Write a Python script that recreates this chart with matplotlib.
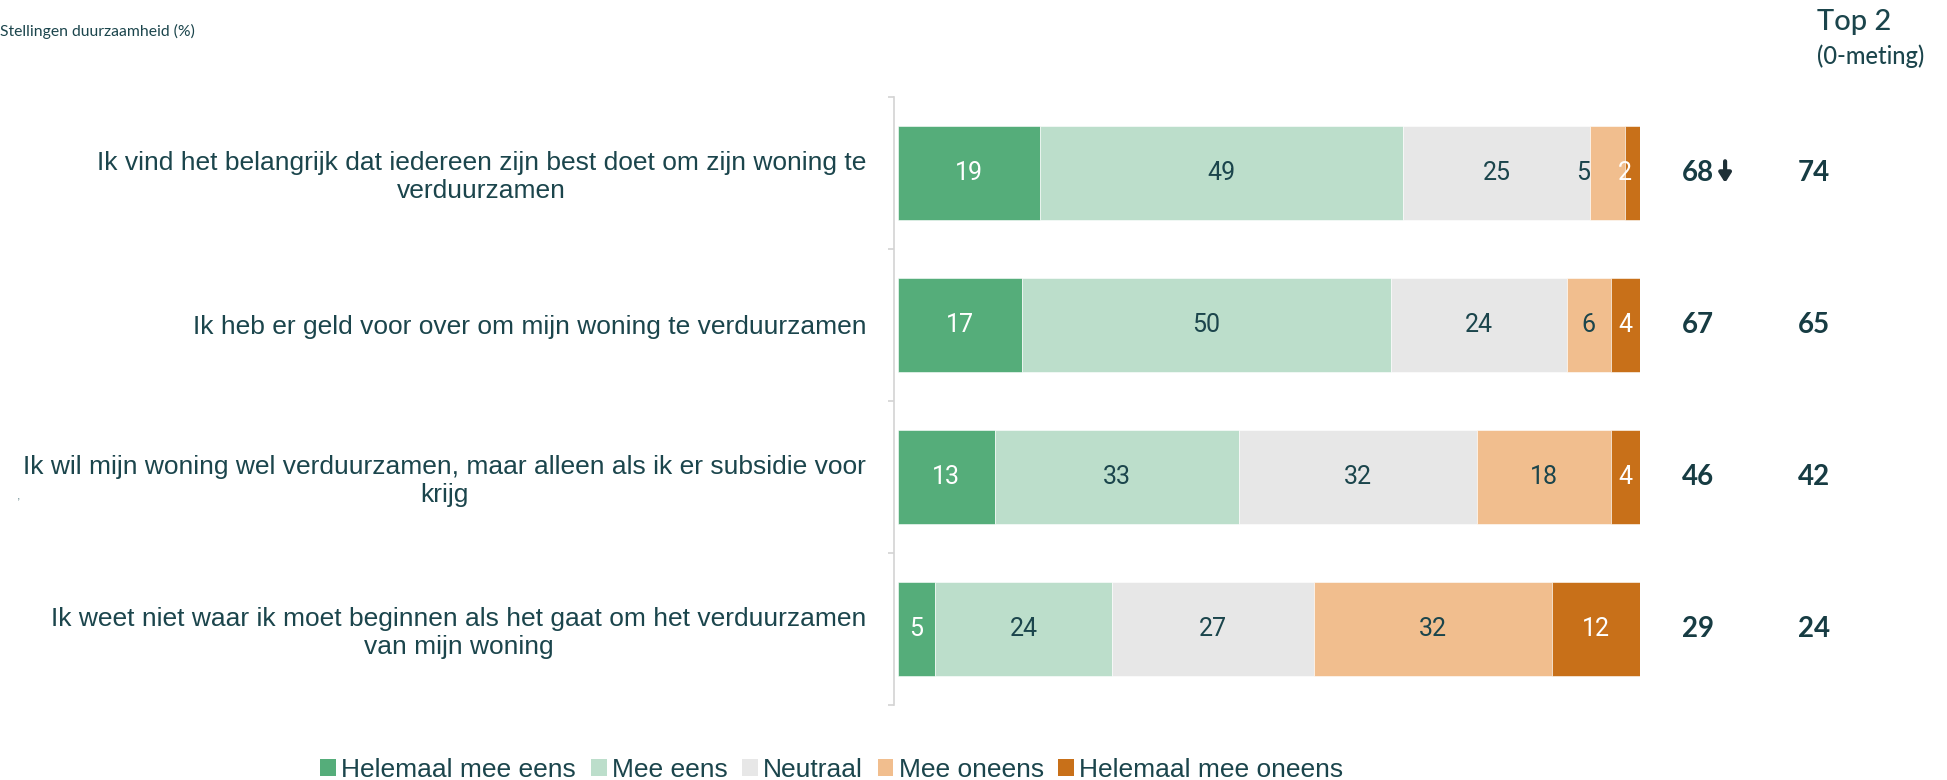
import matplotlib
matplotlib.use("Agg")
import matplotlib.pyplot as plt
from matplotlib.patches import Patch
import numpy as np

statements = [
    "Ik vind het belangrijk dat iedereen zijn best doet om zijn woning te\nverduurzamen",
    "Ik heb er geld voor over om mijn woning te verduurzamen",
    "Ik wil mijn woning wel verduurzamen, maar alleen als ik er subsidie voor\nkrijg",
    "Ik weet niet waar ik moet beginnen als het gaat om het verduurzamen\nvan mijn woning",
]
categories = ["Helemaal mee eens", "Mee eens", "Neutraal", "Mee oneens", "Helemaal mee oneens"]

helemaal_eens = [19.1, 16.7, 13.0, 5.0]
mee_eens = [49.0, 49.7, 32.9, 23.9]
neutraal = [25.1, 23.7, 32.1, 27.1]
mee_oneens = [4.8, 6.0, 18.1, 32.1]
helemaal_oneens = [2.0, 3.9, 3.9, 11.9]

top2_now = ["68", "67", "46", "29"]
top2_base = ["74", "65", "42", "24"]

COLORS = ["#55AD7A", "#BCDECB", "#E7E7E7", "#F1BE8E", "#C87019"]
LABEL_COLORS = ["white", "#1B454C", "#1B454C", "#1B454C", "white"]
TEXT = "#1B454C"
NUM = "#173C43"

fig = plt.figure(figsize=(19.47, 7.8), dpi=100)
ax = fig.add_axes([0.4592, 0.0962, 0.3831, 0.7795])

series = [helemaal_eens, mee_eens, neutraal, mee_oneens, helemaal_oneens]
y = np.arange(len(statements))
left = np.zeros(len(statements))
# small manual nudges for crowded labels (row, series) -> shift in %
nudge = {(0, 3): -3.3, (0, 4): -1.0}
for j, vals in enumerate(series):
    vals = np.array(vals)
    ax.barh(y, vals, left=left, height=0.62, color=COLORS[j], edgecolor="white", linewidth=0.4)
    for i, v in enumerate(vals):
        xc = left[i] + v / 2 + nudge.get((i, j), 0)
        ax.text(xc, y[i], f"{v:.0f}", ha="center", va="center", fontsize=18,
                family="Roboto", fontweight="normal", color=LABEL_COLORS[j])
    left += vals

ax.set_xlim(-0.54, 100)
ax.set_ylim(3.5, -0.5)
ax.set_xticks([])
for s in ["top", "right", "bottom"]:
    ax.spines[s].set_visible(False)
ax.spines["left"].set_color("#D3D3D3")
ax.spines["left"].set_linewidth(1.2)

# boundary ticks on the spine, labels on the category centres
ax.set_yticks(np.arange(-0.5, len(statements)), labels=[""] * (len(statements) + 1))
ax.tick_params(axis="y", which="major", length=4, width=1.2, color="#D3D3D3")
ax.set_yticks(y, labels=statements, minor=True)
ax.tick_params(axis="y", which="minor", length=0, pad=20)
for lab in ax.get_yticklabels(minor=True):
    lab.set_fontsize(19)
    lab.set_family("Liberation Sans")
    lab.set_color(TEXT)
    lab.set_multialignment("center")
    lab.set_linespacing(1.2)

# Top 2 columns
trans = matplotlib.transforms.blended_transform_factory(ax.transAxes, ax.transData)
for i in range(len(statements)):
    t = ax.text(1.056, y[i], top2_now[i], transform=trans, ha="left", va="center",
                fontsize=20, family="Lato", fontweight="bold", color=NUM)
    ax.text(1.212, y[i], top2_base[i], transform=trans, ha="left", va="center",
            fontsize=20, family="Lato", fontweight="bold", color=NUM)
    if i == 0:
        ax.annotate("", xy=(1.35, 0.12), xycoords=t, xytext=(1.35, 0.95), textcoords=t,
                    arrowprops=dict(arrowstyle="-|>,head_width=0.35,head_length=0.55",
                                    lw=3, color="#1E2F36", shrinkA=0, shrinkB=0))

fig.text(1817 / 1947, 1 - 22 / 780, "Top 2", ha="left", va="center", fontsize=21,
         family="Lato", fontweight="medium", color=TEXT)
fig.text(1817 / 1947, 1 - 56 / 780, "(0-meting)", ha="left", va="center", fontsize=17,
         family="Lato", fontweight="medium", color=TEXT)

fig.text(0.0, 1 - 31 / 780, "Stellingen duurzaamheid (%)", ha="left", va="center",
         fontsize=11.3, family="Lato", color=TEXT)
fig.text(19 / 1947, 1 - 497 / 780, ",", ha="center", va="center", fontsize=9,
         family="Liberation Sans", color="#6A8A90")

handles = [Patch(facecolor=c, edgecolor="none") for c in COLORS]
leg = fig.legend(handles, categories, ncol=5, loc="center",
                 bbox_to_anchor=(832 / 1947, 1 - 770 / 780), frameon=False,
                 prop={"family": "Liberation Sans", "size": 19},
                 handlelength=0.6, handleheight=0.6, handletextpad=0.2,
                 columnspacing=0.55, borderpad=0, borderaxespad=0)
for txt in leg.get_texts():
    txt.set_color(TEXT)

fig.savefig("out.png", dpi=100)
